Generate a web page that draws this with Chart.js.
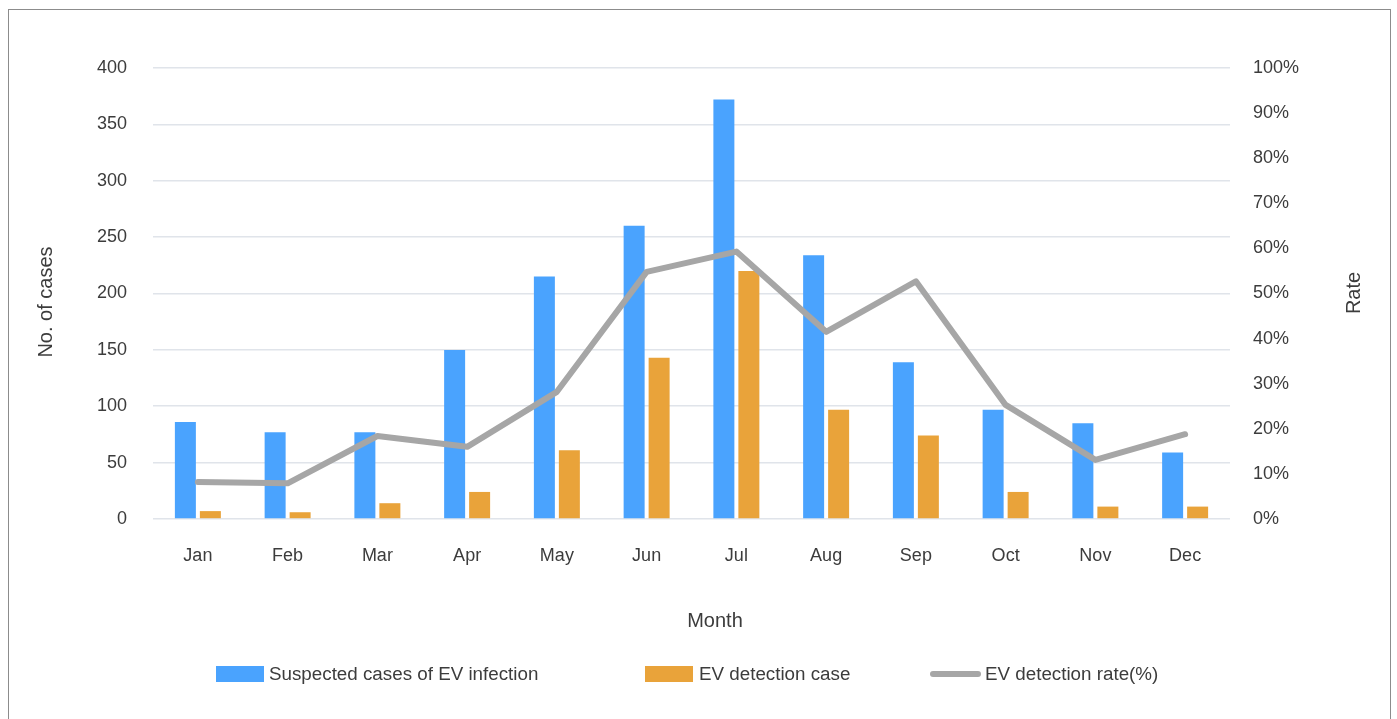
<!DOCTYPE html>
<html>
<head>
<meta charset="utf-8">
<script src="https://cdn.jsdelivr.net/npm/chart.js@4"></script>
<style>
  html, body { margin: 0; padding: 0; background: #ffffff; overflow: hidden; }
  #wrap { position: absolute; left: 0; top: 0; width: 1397px; height: 719px; }
  #frame { position: absolute; left: 8px; top: 9px; width: 1383px; height: 730px; border: 1.5px solid #8c8c8c; box-sizing: border-box; pointer-events: none; }
</style>
</head>
<body>
<div id="wrap"><canvas id="c" width="1397" height="719"></canvas></div>
<div id="frame"></div>
<script>
const months = ['Jan','Feb','Mar','Apr','May','Jun','Jul','Aug','Sep','Oct','Nov','Dec'];
const suspectedCases = [86, 77, 77, 150, 215, 260, 372, 234, 139, 97, 85, 59];
const detectionCases = [7, 6, 14, 24, 61, 143, 220, 97, 74, 24, 11, 11];
const detectionRate = [8.2, 7.9, 18.4, 16.0, 28.2, 54.8, 59.3, 41.5, 52.7, 25.3, 13.1, 18.8];
const leftTicksMax = 400;
const rightTicksMax = 100;

const FONT = '"Liberation Sans", Arial, sans-serif';
const TXT = '#3c3c3c';

const titlesAndLegend = {
  id: 'titlesAndLegend',
  afterDraw(chart) {
    const ctx = chart.ctx;
    ctx.save();
    ctx.fillStyle = TXT;
    ctx.font = '20px ' + FONT;
    ctx.textAlign = 'center';
    ctx.textBaseline = 'middle';
    ctx.fillText('Month', 715, 621);
    ctx.save();
    ctx.translate(46, 302);
    ctx.rotate(-Math.PI / 2);
    ctx.fillText('No. of cases', 0, 0);
    ctx.restore();
    ctx.save();
    ctx.translate(1354, 293);
    ctx.rotate(-Math.PI / 2);
    ctx.fillText('Rate', 0, 0);
    ctx.restore();

    const ds = chart.data.datasets;
    const ly = 674;
    ctx.font = '18.8px ' + FONT;
    ctx.textAlign = 'left';
    ctx.fillStyle = ds[0].backgroundColor;
    ctx.fillRect(216, 666, 48, 16);
    ctx.fillStyle = TXT;
    ctx.fillText(ds[0].label, 269, ly + 1);

    ctx.fillStyle = ds[1].backgroundColor;
    ctx.fillRect(645, 666, 48, 16);
    ctx.fillStyle = TXT;
    ctx.fillText(ds[1].label, 699, ly + 1);

    ctx.strokeStyle = ds[2].borderColor;
    ctx.lineWidth = 6;
    ctx.lineCap = 'round';
    ctx.beginPath();
    ctx.moveTo(933, ly);
    ctx.lineTo(978, ly);
    ctx.stroke();
    ctx.fillStyle = TXT;
    ctx.fillText(ds[2].label, 985, ly + 1);
    ctx.restore();
  }
};

new Chart(document.getElementById('c'), {
  type: 'bar',
  data: {
    labels: months,
    datasets: [
      {
        type: 'bar',
        label: 'Suspected cases of EV infection',
        data: suspectedCases,
        backgroundColor: '#4aa3fe',
        yAxisID: 'y',
        order: 1,
        categoryPercentage: 0.557,
        barPercentage: 0.84
      },
      {
        type: 'bar',
        label: 'EV detection case',
        data: detectionCases,
        backgroundColor: '#e9a33a',
        yAxisID: 'y',
        order: 1,
        categoryPercentage: 0.557,
        barPercentage: 0.84
      },
      {
        type: 'line',
        label: 'EV detection rate(%)',
        data: detectionRate,
        borderColor: '#a6a6a6',
        backgroundColor: '#a6a6a6',
        borderWidth: 6,
        pointRadius: 0,
        tension: 0,
        borderJoinStyle: 'round',
        borderCapStyle: 'round',
        yAxisID: 'y1',
        order: 0
      }
    ]
  },
  options: {
    responsive: false,
    animation: false,
    events: [],
    layout: { padding: { top: 68, left: 0, right: 0, bottom: 0 } },
    plugins: {
      legend: { display: false },
      tooltip: { enabled: false },
      title: { display: false }
    },
    scales: {
      x: {
        grid: { display: false, drawTicks: false },
        border: { display: false },
        ticks: { color: TXT, font: { family: FONT, size: 18 }, padding: 26, maxRotation: 0, autoSkip: false },
        afterFit(s) { s.height = 200; }
      },
      y: {
        position: 'left',
        min: 0,
        max: leftTicksMax,
        ticks: { stepSize: 50, color: TXT, font: { family: FONT, size: 18 }, padding: 26 },
        grid: { color: '#e0e4ea', lineWidth: 1.6, drawTicks: false },
        border: { display: false },
        afterFit(s) { s.width = 153; }
      },
      y1: {
        position: 'right',
        min: 0,
        max: rightTicksMax,
        ticks: { stepSize: 10, color: TXT, font: { family: FONT, size: 18 }, padding: 23, callback: v => v + '%' },
        grid: { display: false, drawTicks: false },
        border: { display: false },
        afterFit(s) { s.width = 167; }
      }
    }
  },
  plugins: [titlesAndLegend]
});
</script>
</body>
</html>
